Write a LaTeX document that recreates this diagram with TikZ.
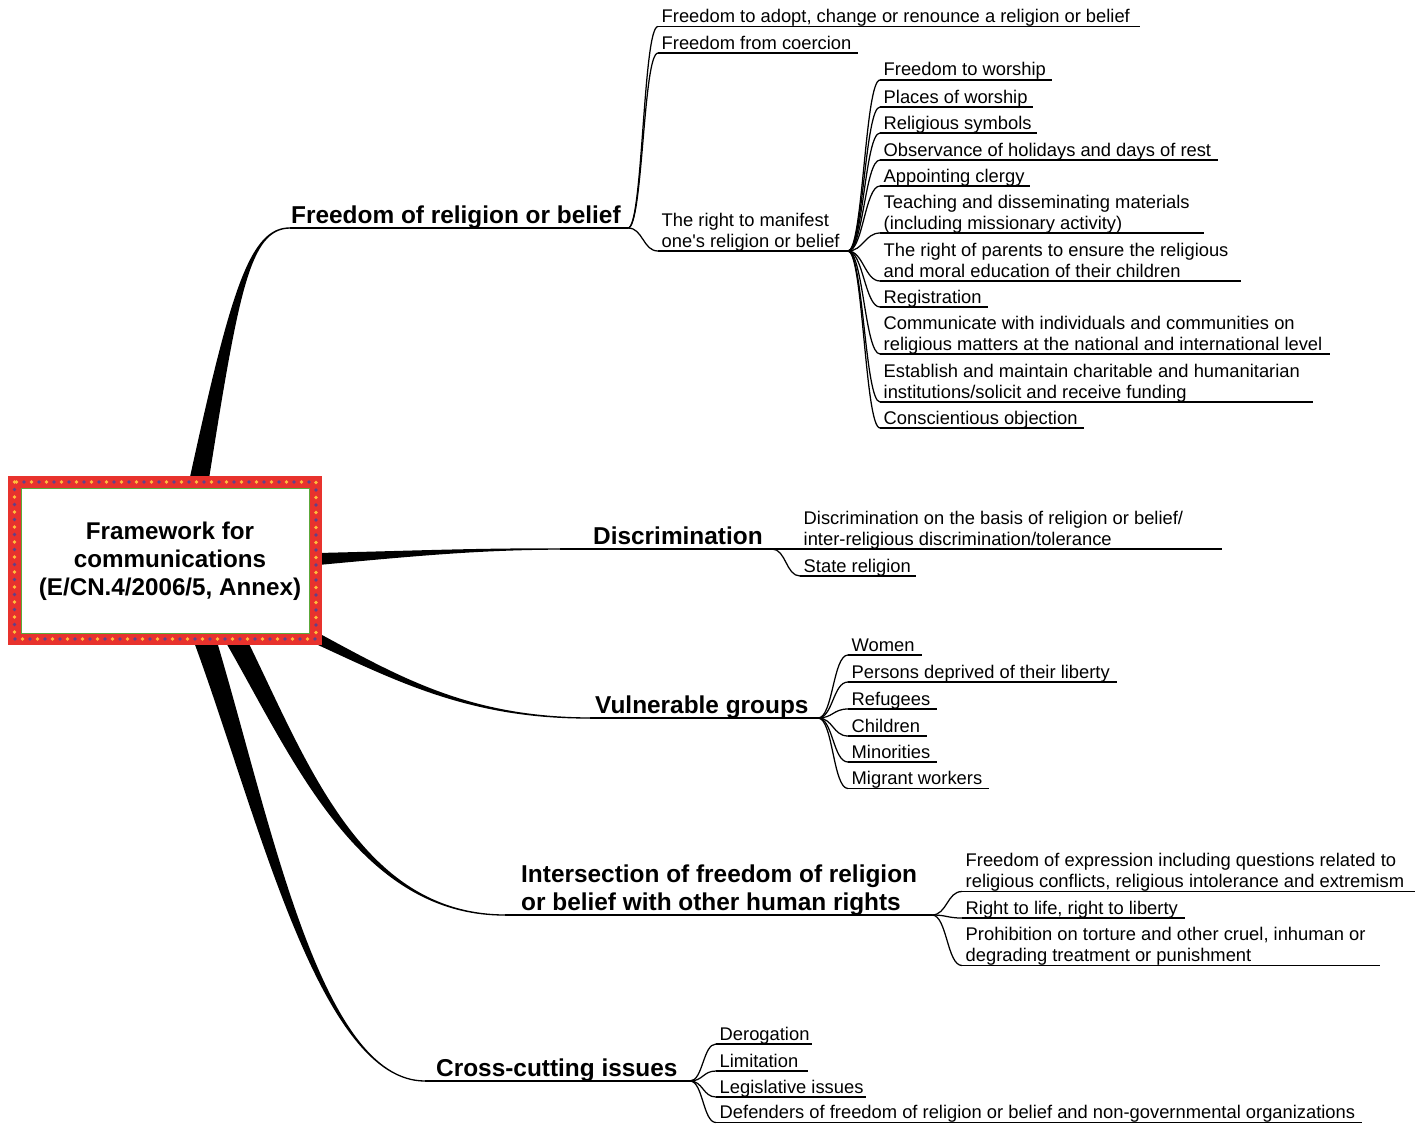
\documentclass[tikz,border=0pt]{standalone}
\usepackage{fontspec}
\setmainfont{Liberation Sans}
\usetikzlibrary{calc}
\definecolor{boxred}{RGB}{232,50,45}
\definecolor{dotor}{RGB}{255,190,60}
\definecolor{dotpu}{RGB}{95,65,140}
\definecolor{boxgreen}{RGB}{90,170,60}
\tikzset{
  ln/.style={line width=1.25pt, black},
  leaf/.style={anchor=base west, inner sep=0pt, font=\fontsize{18.35}{21}\selectfont},
  mainf/.style={anchor=base west, inner sep=0pt, font=\fontsize{24.4}{27.5}\selectfont\bfseries},
  rootf/.style={align=center, inner sep=0pt, font=\fontsize{24.2}{28}\selectfont\bfseries},
}
% tapered trunk: #1 start name, #2 #3 controls, #4 end name, #5-#8 half widths
\newcommand{\trunkfill}[8]{%
  \fill[black] ($(#1)!#5!90:(#2)$) .. controls ($(#2)!#6!90:(#3)$) and ($(#3)!#7!90:(#4)$) .. ($(#4)!#8!-90:(#3)$)
    -- ($(#4)!#8!90:(#3)$) .. controls ($(#3)!#7!-90:(#4)$) and ($(#2)!#6!-90:(#3)$) .. ($(#1)!#5!-90:(#2)$) -- cycle;}
\newcommand{\twol}[2]{\vtop{\hbox{#1}\hbox{#2}}}
% leaf: #1 name, #2 parent, #3 xs, #4 underline y, #5 xe, #6 baseline offset, #7 text
\newcommand{\cg}{15}
\newcommand{\leafnode}[7]{%
  \coordinate (#1-s) at (#3,#4);
  \coordinate (#1-e) at (#5,#4);
  \node[leaf] (#1) at (#3+3.5,#4-#6) {#7};
  \draw[ln] (#1-s) -- (#1-e);
  \draw[ln] (#2-e) .. controls +(\cg,0) and +(-\cg,0) .. (#1-s);}
% main: #1 name, #2 text x, #3 underline y, #4 xs, #5 xe, #6 baseline offset, #7 text
\newcommand{\mainnode}[7]{%
  \coordinate (#1-s) at (#4,#3);
  \coordinate (#1-e) at (#5,#3);
  \node[mainf] (#1) at (#2,#3-#6) {#7};
  \draw[ln] (#1-s) -- (#1-e);}
\begin{document}
\begin{tikzpicture}[x=1pt,y=-1pt]
\useasboundingbox (0,0) rectangle (1424,1124);
\fill[white] (0,0) rectangle (1424,1124);

% trunk anchor points on the root box
\coordinate (root-t1) at (199.5,478);
\coordinate (root-t2) at (318,559);
\coordinate (root-t3) at (316,638);
\coordinate (root-t4) at (236,640);
\coordinate (root-t5) at (205,640);

% main branches
\mainnode{frb}{291}{228}{290}{628}{5}{Freedom of religion or belief}
\mainnode{dis}{593}{549}{560}{772}{5}{Discrimination}
\mainnode{vul}{595}{718}{590}{818}{5}{Vulnerable groups}
\mainnode{int}{521}{915}{505}{932}{32.5}{\twol{Intersection of freedom of religion}{or belief with other human rights}}
\mainnode{crs}{436}{1081}{425}{690}{5}{Cross-cutting issues}

% trunks
\trunkfill{root-t1}{235,290}{250,228}{frb-s}{9.5pt}{4pt}{1pt}{0.65pt}
\trunkfill{root-t2}{420,553}{480,549}{dis-s}{6pt}{2.5pt}{1pt}{0.65pt}
\trunkfill{root-t3}{400,680}{470,718}{vul-s}{5.5pt}{2.5pt}{0.8pt}{0.65pt}
\trunkfill{root-t4}{300,760}{360,915}{int-s}{10pt}{6pt}{0.8pt}{0.65pt}
\trunkfill{root-t5}{265,820}{320,1081}{crs-s}{11pt}{5.5pt}{0.6pt}{0.65pt}

% root box
\fill[boxred] (8,476) rectangle (322,645);
\draw[dotor, line width=3.8pt, line cap=round, dash pattern=on 0pt off 15pt] (14.5,482) rectangle (316,639);
\draw[dotpu, line width=3.8pt, line cap=round, dash pattern=on 0pt off 15pt, dash phase=7.5pt] (14.5,482) rectangle (316,639);
\filldraw[fill=white, draw=boxgreen, line width=0.9pt] (21,488) rectangle (309,633);
\node[rootf] (root) at (170,561) {Framework for\\communications\\(E/CN.4/2006/5, Annex)};

% Freedom of religion or belief
\renewcommand{\cg}{15}
\leafnode{a1}{frb}{658}{26.5}{1140}{4}{Freedom to adopt, change or renounce a religion or belief}
\leafnode{a2}{frb}{658}{53}{858}{4}{Freedom from coercion}
\leafnode{a3}{frb}{658}{251}{848}{25}{\twol{The right to manifest}{one\textquotesingle s religion or belief}}

\renewcommand{\cg}{15}
\leafnode{b1}{a3}{880}{80}{1052}{4}{Freedom to worship}
\leafnode{b2}{a3}{880}{107}{1033}{4}{Places of worship}
\leafnode{b3}{a3}{880}{133}{1037}{4}{Religious symbols}
\leafnode{b4}{a3}{880}{160}{1218}{4}{Observance of holidays and days of rest}
\leafnode{b5}{a3}{880}{186}{1030}{4}{Appointing clergy}
\leafnode{b6}{a3}{880}{233}{1204}{25}{\twol{Teaching and disseminating materials}{(including missionary activity)}}
\leafnode{b7}{a3}{880}{281}{1241}{25}{\twol{The right of parents to ensure the religious}{and moral education of their children}}
\leafnode{b8}{a3}{880}{307}{988}{4}{Registration}
\leafnode{b9}{a3}{880}{354}{1330}{25}{\twol{Communicate with individuals and communities on}{religious matters at the national and international level}}
\leafnode{b10}{a3}{880}{402}{1313}{25}{\twol{Establish and maintain charitable and humanitarian}{institutions/solicit and receive funding}}
\leafnode{b11}{a3}{880}{428}{1084}{4}{Conscientious objection}

% Discrimination
\renewcommand{\cg}{14}
\leafnode{c1}{dis}{800}{549}{1222}{25}{\twol{Discrimination on the basis of religion or belief/}{inter-religious discrimination/tolerance}}
\leafnode{c2}{dis}{800}{576}{916}{4}{State religion}

% Vulnerable groups
\renewcommand{\cg}{15}
\leafnode{d1}{vul}{848}{655}{922}{4}{Women}
\leafnode{d2}{vul}{848}{682}{1117}{4}{Persons deprived of their liberty}
\leafnode{d3}{vul}{848}{709}{937}{4}{Refugees}
\leafnode{d4}{vul}{848}{736}{927}{4}{Children}
\leafnode{d5}{vul}{848}{762}{937}{4}{Minorities}
\leafnode{d6}{vul}{848}{788.5}{989}{4}{Migrant workers}

% Intersection
\renewcommand{\cg}{15}
\leafnode{e1}{int}{962}{891.5}{1415}{25}{\twol{Freedom of expression including questions related to}{religious conflicts, religious intolerance and extremism}}
\leafnode{e2}{int}{962}{918}{1185}{4}{Right to life, right to liberty}
\leafnode{e3}{int}{962}{965.5}{1380}{25}{\twol{Prohibition on torture and other cruel, inhuman or}{degrading treatment or punishment}}

% Cross-cutting issues
\renewcommand{\cg}{13}
\leafnode{f1}{crs}{716}{1044}{812}{4}{Derogation}
\leafnode{f2}{crs}{716}{1071}{808}{4}{Limitation}
\leafnode{f3}{crs}{716}{1097}{866}{4}{Legislative issues}
\leafnode{f4}{crs}{716}{1122.5}{1362}{4}{Defenders of freedom of religion or belief and non-governmental organizations}
\end{tikzpicture}
\end{document}
